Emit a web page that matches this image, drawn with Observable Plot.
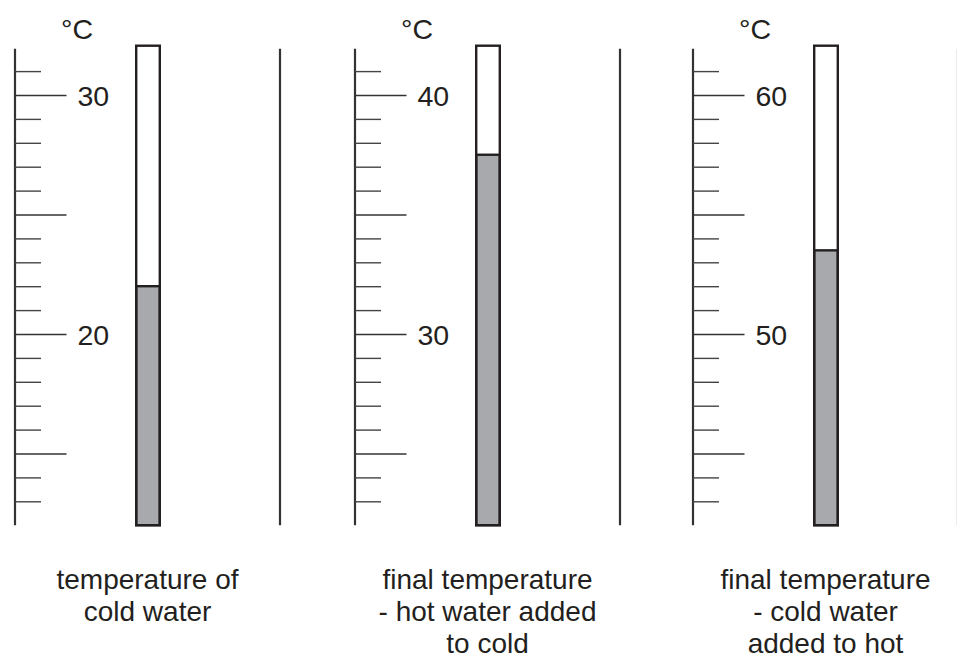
<!DOCTYPE html>
<html>
<head>
<meta charset="utf-8">
<script src="https://cdn.jsdelivr.net/npm/d3@7"></script>
<script src="https://cdn.jsdelivr.net/npm/@observablehq/plot@0.6"></script>
<style>
  html, body { margin: 0; padding: 0; background: #ffffff; }
  #wrap { position: relative; width: 957px; height: 659px; overflow: hidden; background: #fff; }
  #wrap svg { position: absolute; top: 0; }
</style>
</head>
<body>
<div id="wrap"></div>
<script>
// ---- data ----
const panelCaptions = [
  "temperature of\ncold water",
  "final temperature\n- hot water added\nto cold",
  "final temperature\n- cold water\nadded to hot"
];
const readings = [22, 37.5, 53.5];
const scaleMin = [12, 22, 42];
const scaleMax = [32, 42, 62];
const labelledTicks = [[20, 30], [30, 40], [50, 60]];
const majorTicks = [[15, 20, 25, 30], [25, 30, 35, 40], [45, 50, 55, 60]];
const minorTicks = [
  [13, 14, 16, 17, 18, 19, 21, 22, 23, 24, 26, 27, 28, 29, 31],
  [23, 24, 26, 27, 28, 29, 31, 32, 33, 34, 36, 37, 38, 39, 41],
  [43, 44, 46, 47, 48, 49, 51, 52, 53, 54, 56, 57, 58, 59, 61]
];
const unitLabel = "°C";

// ---- layout ----
const panelLeft = [0, 339.5, 677.5];
const W = 340, H = 659;
const ink = "#231f20";
const font = "'Liberation Sans', Arial, Helvetica, sans-serif";
const fs = 28.5;
const capFs = 28;

const wrap = document.getElementById("wrap");

panelCaptions.forEach((caption, i) => {
  const lo = scaleMin[i], hi = scaleMax[i];
  const svg = Plot.plot({
    width: W,
    height: H,
    marginTop: 47.2,
    marginBottom: 133.8,
    marginLeft: 0,
    marginRight: 0,
    style: { fontFamily: font, background: "transparent", overflow: "visible" },
    x: { type: "identity", axis: null },
    y: { domain: [lo, hi], axis: null },
    marks: [
      // scale line
      Plot.ruleX([14.5], { y1: lo, y2: hi, stroke: "#333", strokeWidth: 2.2, insetBottom: -1.5 }),
      // separator line
      Plot.ruleX([279.5], { y1: lo, y2: hi, stroke: "#333", strokeWidth: 2.2, insetBottom: -1.5 }),
      // minor ticks
      Plot.ruleY(minorTicks[i], { y: d => d, x1: 15, x2: 41, stroke: "#444", strokeWidth: 1.4 }),
      // major ticks
      Plot.ruleY(majorTicks[i], { y: d => d, x1: 15, x2: 66.5, stroke: "#333", strokeWidth: 1.3 }),
      // tick labels
      Plot.text(labelledTicks[i], {
        y: d => d, x: 77, text: d => String(d), textAnchor: "start", lineAnchor: "middle",
        dy: 1.5, fontSize: fs, fill: ink
      }),
      // unit
      Plot.text([unitLabel], {
        y: hi, x: 76.5, text: d => d, textAnchor: "middle", lineAnchor: "bottom",
        dy: -9, fontSize: fs, fill: ink
      }),
      // mercury column
      Plot.rect([readings[i]], {
        x1: 136.2, x2: 159.8, y1: lo, y2: d => d,
        fill: "#a7a9ac", stroke: ink, strokeWidth: 2.4
      }),
      // tube outline
      Plot.rect([readings[i]], {
        x1: 136.2, x2: 159.8, y1: lo, y2: hi, insetTop: -1.5,
        fill: "none", stroke: ink, strokeWidth: 2.4
      }),
      // caption below
      Plot.text([caption], {
        x: 147, y: lo, text: d => d, textAnchor: "middle", lineAnchor: "top",
        dy: 40.9, lineHeight: 32 / capFs, fontSize: capFs, fill: ink
      })
    ]
  });
  svg.style.left = panelLeft[i] + "px";
  wrap.appendChild(svg);
});
</script>
</body>
</html>
